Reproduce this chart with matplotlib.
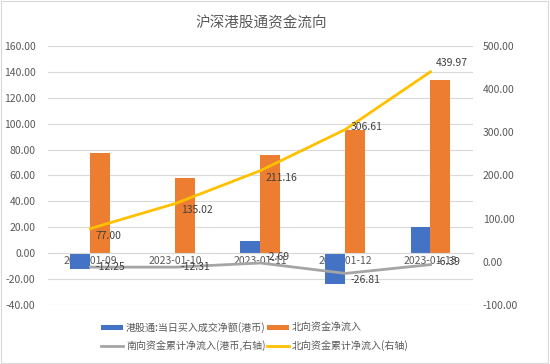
import matplotlib.pyplot as plt
import numpy as np

plt.rcParams['font.family'] = ['Noto Sans CJK SC', 'DejaVu Sans']

dates = ["2023-01-09", "2023-01-10", "2023-01-11", "2023-01-12", "2023-01-13"]
south_daily = [-12.25, -0.06, 9.62, -24.12, 20.42]
north_daily = [77.00, 58.02, 76.14, 95.45, 133.36]
south_cum = [-12.25, -12.31, -2.69, -26.81, -6.39]
north_cum = [77.00, 135.02, 211.16, 306.61, 439.97]

blue = "#4472C4"
orange = "#ED7D31"
gray = "#A5A5A5"
yellow = "#FFC000"
txt = "#595959"

fig = plt.figure(figsize=(5.5, 3.64), dpi=100)
ax = fig.add_axes([0.087, 0.162, 0.773, 0.712])
ax2 = ax.twinx()

x = np.arange(len(dates))
w = 0.235
b1 = ax.bar(x - w / 2, south_daily, w, color=blue, label="港股通:当日买入成交净额(港币)", zorder=2)
b2 = ax.bar(x + w / 2, north_daily, w, color=orange, label="北向资金净流入", zorder=2)

ax.set_ylim(-40, 160)
ax.set_yticks(np.arange(-40, 161, 20))
ax.set_yticklabels([f"{v:.2f}" for v in np.arange(-40, 161, 20)])
ax.set_xlim(-0.5, len(dates) - 0.5)
ax.set_xticks(x)
ax.set_xticklabels(dates)
ax.grid(axis="y", color="#D9D9D9", linewidth=0.8, zorder=0)
for s in ["top", "left", "right"]:
    ax.spines[s].set_visible(False)
ax.spines["bottom"].set_position(("data", 0))
ax.spines["bottom"].set_color("#D9D9D9")
ax.tick_params(axis="y", length=0, labelsize=7.5, colors=txt, pad=9)
ax.tick_params(axis="x", length=0, labelsize=7.5, colors=txt, pad=2)

l1, = ax2.plot(x, south_cum, color=gray, linewidth=2, label="南向资金累计净流入(港币,右轴)", zorder=3)
l2, = ax2.plot(x, north_cum, color=yellow, linewidth=2, label="北向资金累计净流入(右轴)", zorder=3)
ax2.set_ylim(-100, 500)
ax2.set_yticks(np.arange(-100, 501, 100))
ax2.set_yticklabels([f"{v:.2f}" for v in np.arange(-100, 501, 100)])
for s in ax2.spines.values():
    s.set_visible(False)
ax2.tick_params(axis="y", length=0, labelsize=7.5, colors=txt, pad=7)

south_off = [(4, 0), (4, 0), (4, 4), (4, -5), (4, 2)]
for i, v in enumerate(south_cum):
    ax2.annotate(f"{v:.2f}", (x[i], v), xytext=south_off[i], textcoords="offset points",
                 fontsize=7.5, color="#404040", va="center", ha="left")
north_off = [(4, -5), (4, -5), (4, -5), (4, 2), (4, 6)]
for i, v in enumerate(north_cum):
    ax2.annotate(f"{v:.2f}", (x[i], v), xytext=north_off[i], textcoords="offset points",
                 fontsize=7.5, color="#404040", va="center", ha="left")

fig.suptitle("沪深港股通资金流向", x=0.475, y=0.955, fontsize=10.5, color=txt)
fig.legend(handles=[b1, l1, b2, l2], loc="center", bbox_to_anchor=(0.463, 0.075), ncol=2,
           frameon=False, fontsize=7.2, labelcolor=txt, handlelength=2.2, handleheight=0.45,
           columnspacing=0.1, handletextpad=0.3, labelspacing=0.7)

fig.patches.append(plt.Rectangle((0.002, 0.003), 0.995, 0.993, transform=fig.transFigure,
                                 fill=False, edgecolor="#D9D9D9", linewidth=0.8))

fig.savefig("out.png", dpi=100)
